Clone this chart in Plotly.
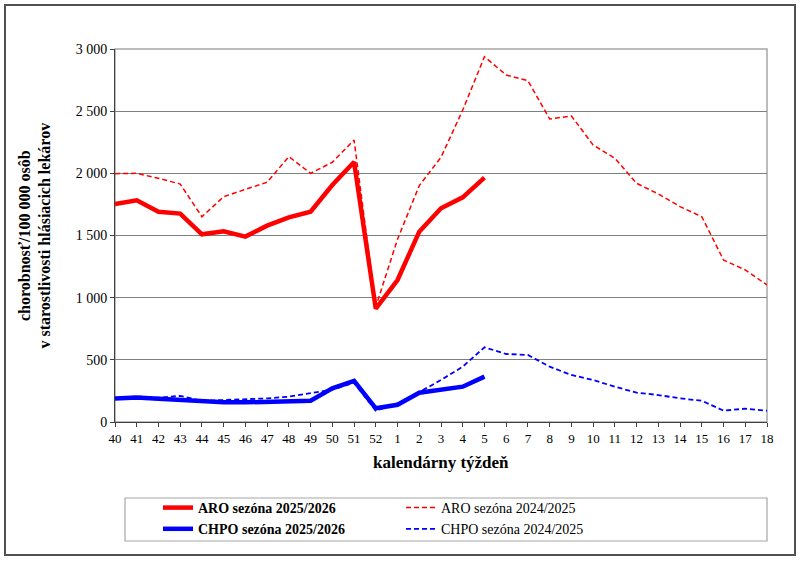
import plotly.graph_objects as go

weeks = ["40", "41", "42", "43", "44", "45", "46", "47", "48", "49", "50", "51", "52",
         "1", "2", "3", "4", "5", "6", "7", "8", "9", "10", "11", "12", "13", "14",
         "15", "16", "17", "18"]

aro_2526 = [1753, 1783, 1691, 1676, 1510, 1534, 1491, 1579, 1646, 1691, 1906, 2091, 911,
            1142, 1531, 1719, 1807, 1965]
aro_2425 = [1997, 2000, 1960, 1914, 1651, 1812, 1871, 1928, 2134, 2000, 2089, 2268, 927,
            1470, 1901, 2129, 2509, 2938, 2791, 2745, 2437, 2461, 2228, 2121, 1920, 1834,
            1732, 1651, 1303, 1223, 1102]
chpo_2526 = [190, 198, 188, 180, 163, 158, 158, 163, 171, 171, 271, 330, 110, 139, 236,
             257, 284, 365]
chpo_2425 = [190, 205, 195, 210, 170, 175, 180, 190, 204, 231, 260, 315, 91, 150, 240,
             338, 445, 601, 547, 539, 445, 378, 338, 284, 236, 217, 190, 171, 91, 107, 91]

names = ["<b>ARO sezóna 2025/2026</b>", "ARO sezóna 2024/2025",
         "<b>CHPO sezóna 2025/2026</b>", "CHPO sezóna 2024/2025"]

FONT = "Liberation Serif, Times New Roman, serif"

fig = go.Figure()
fig.add_trace(go.Scatter(x=weeks[:len(aro_2425)], y=aro_2425, mode="lines", name=names[1],
                         line=dict(color="#FF0000", width=1.5, dash="5px,3px")))
fig.add_trace(go.Scatter(x=weeks[:len(chpo_2425)], y=chpo_2425, mode="lines", name=names[3],
                         line=dict(color="#0000FF", width=1.8, dash="5px,3px")))
fig.add_trace(go.Scatter(x=weeks[:len(aro_2526)], y=aro_2526, mode="lines", name=names[0],
                         line=dict(color="#FF0000", width=4.5)))
fig.add_trace(go.Scatter(x=weeks[:len(chpo_2526)], y=chpo_2526, mode="lines", name=names[2],
                         line=dict(color="#0000FF", width=4.5)))

# legend ordering: rows ARO 25/26 | ARO 24/25 ; CHPO 25/26 | CHPO 24/25
fig.data[2].legendrank = 1
fig.data[0].legendrank = 2
fig.data[3].legendrank = 3
fig.data[1].legendrank = 4

L, R, T, B = 115, 33, 49, 140
W, H = 800, 562
pw, ph = W - L - R, H - T - B

def px(x):
    return (x - L) / pw

def py(y):
    return (H - B - y) / ph

fig.update_layout(
    width=W, height=H,
    margin=dict(l=L, r=R, t=T, b=B),
    paper_bgcolor="white", plot_bgcolor="white",
    font=dict(family=FONT, color="black", size=12),
    separators=", ",
    showlegend=True,
    legend=dict(orientation="h", x=px(158), y=py(492), xanchor="left", yanchor="top",
                entrywidth=198, entrywidthmode="pixels", font=dict(size=14, family=FONT),
                bgcolor="rgba(0,0,0,0)", borderwidth=0, tracegroupgap=0),
    xaxis=dict(type="category", range=[0, 30], showgrid=False, showline=True,
               linecolor="#404040", linewidth=1, ticks="outside", ticklen=4,
               tickcolor="#404040", tickfont=dict(size=13, family=FONT), tickangle=0,
               zeroline=False),
    yaxis=dict(range=[0, 3000], dtick=500, tickformat=",d", showgrid=True,
               gridcolor="#7f7f7f", gridwidth=1, showline=True, linecolor="#404040",
               linewidth=1, ticks="outside", ticklen=4, tickcolor="#404040",
               tickfont=dict(size=14, family=FONT), zeroline=False),
    shapes=[
        dict(type="rect", xref="paper", yref="paper", x0=0, y0=0, x1=1, y1=1,
             line=dict(color="#a6a6a6", width=1.5), layer="below"),
        dict(type="rect", xref="paper", yref="paper", x0=px(125), x1=px(767),
             y0=py(498), y1=py(541), line=dict(color="#a6a6a6", width=1.2)),
        dict(type="rect", xref="paper", yref="paper", x0=px(5), x1=px(795),
             y0=py(5), y1=py(555), line=dict(color="#505050", width=2)),
    ],
    annotations=[
        dict(text="<b>kalendárny týždeň</b>", xref="paper", yref="paper",
             x=0.5, y=py(462), xanchor="center", yanchor="middle", showarrow=False,
             font=dict(size=17, family=FONT)),
        dict(text="<b>chorobnosť/100 000 osôb<br>v starostlivosti hlásiacich lekárov</b>",
             xref="paper", yref="paper", x=px(34), y=0.5, xanchor="center",
             yanchor="middle", textangle=-90, showarrow=False,
             font=dict(size=16, family=FONT)),
    ],
)

fig.write_html("out.html")
